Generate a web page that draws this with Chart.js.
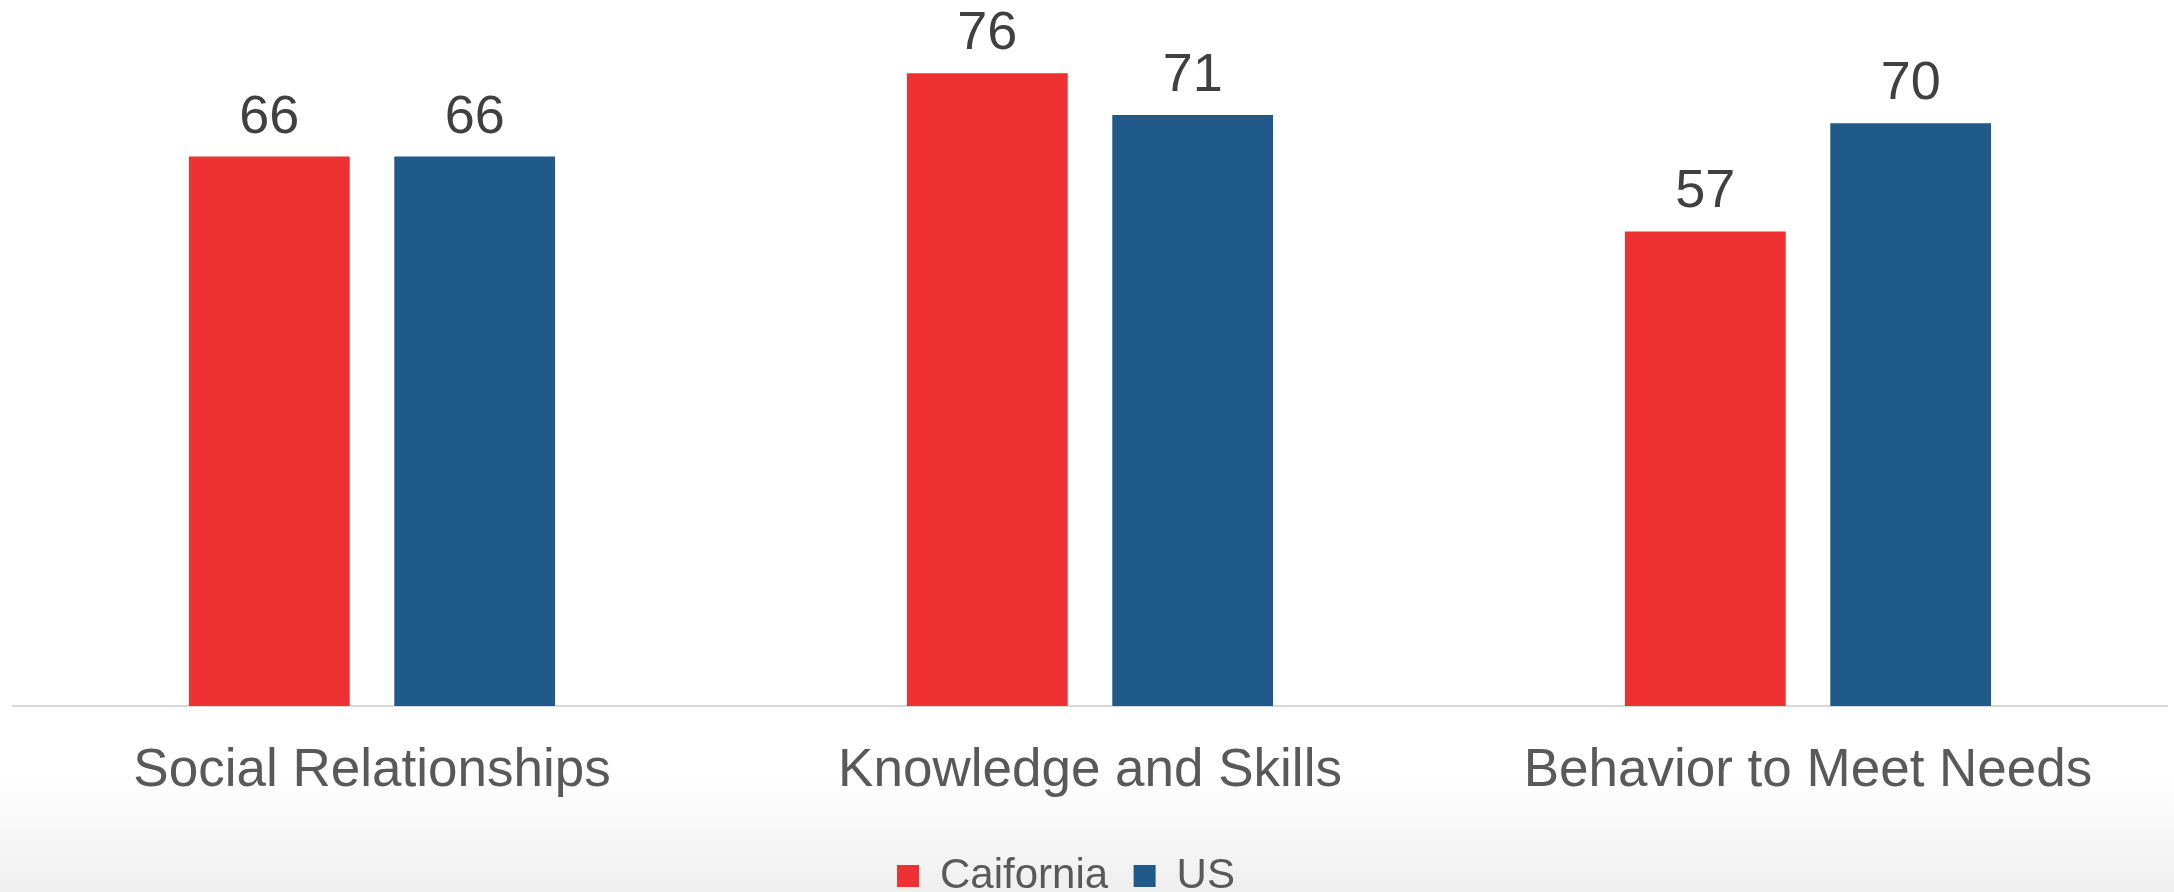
<!DOCTYPE html>
<html>
<head>
<meta charset="utf-8">
<script src="https://cdn.jsdelivr.net/npm/chart.js@4.4.1/dist/chart.umd.min.js"></script>
<style>
	html, body { margin: 0; padding: 0; }
	body {
		width: 2174px;
		height: 892px;
		overflow: hidden;
		background: linear-gradient(to bottom, #ffffff 0px, #ffffff 775px, #efefef 892px);
	}
	#wrap { width: 2174px; height: 892px; }
</style>
</head>
<body>
<div id="wrap"><canvas id="score_chart" width="2174" height="892"></canvas></div>
<script>
// categories and scores per region
var categories = ['Social Relationships', 'Knowledge and Skills', 'Behavior to Meet Needs'];
var seriesNames = ['Caifornia', 'US'];
var californiaScores = [66, 76, 57];
var usScores = [66, 71, 70];

var colorsArray = ['#ee3234', '#1f5a8a'];
var fontFamily = '"Liberation Sans", Arial, sans-serif';

// writes the score above every bar
var barValueLabels = {
	id: 'barValueLabels',
	afterDatasetsDraw: function(chart) {
		var ctx = chart.ctx;
		ctx.save();
		ctx.font = '54px ' + fontFamily;
		ctx.fillStyle = '#404040';
		ctx.textAlign = 'center';
		ctx.textBaseline = 'alphabetic';
		chart.data.datasets.forEach(function(ds, di) {
			var meta = chart.getDatasetMeta(di);
			meta.data.forEach(function(bar, i) {
				ctx.fillText(String(ds.data[i]), bar.x, bar.y - 24);
			});
		});
		ctx.restore();
	}
};

// legend sits a bit left of the middle
var legendShift = {
	id: 'legendShift',
	afterLayout: function(chart) {
		if (!chart.legend) return;
		chart.legend.left -= 24;
		chart.legend.right -= 24;
	}
};

var ctx = document.getElementById('score_chart').getContext('2d');
var chart = new Chart(ctx, {
	type: 'bar',
	data: {
		labels: categories,
		datasets: [{
			label: seriesNames[0],
			data: californiaScores,
			backgroundColor: colorsArray[0]
		}, {
			label: seriesNames[1],
			data: usScores,
			backgroundColor: colorsArray[1]
		}]
	},
	options: {
		responsive: false,
		animation: false,
		categoryPercentage: 0.572,
		barPercentage: 0.783,
		layout: {
			padding: { top: 40, left: 13, right: 7, bottom: -15 }
		},
		scales: {
			y: {
				display: false,
				min: 0,
				max: 80
			},
			x: {
				grid: { display: false, drawTicks: false },
				border: { display: true, color: '#d9d9d9', width: 2 },
				ticks: {
					padding: 34,
					color: '#595959',
					font: { family: fontFamily, size: 53 }
				},
				afterFit: function(scale) {
					scale.height = 123.5;
				}
			}
		},
		plugins: {
			tooltip: { enabled: false },
			legend: {
				display: true,
				position: 'bottom',
				labels: {
					boxWidth: 22,
					boxHeight: 22,
					padding: 25.5,
					color: '#595959',
					font: { family: fontFamily, size: 42 }
				}
			}
		}
	},
	plugins: [barValueLabels, legendShift]
});
</script>
</body>
</html>
